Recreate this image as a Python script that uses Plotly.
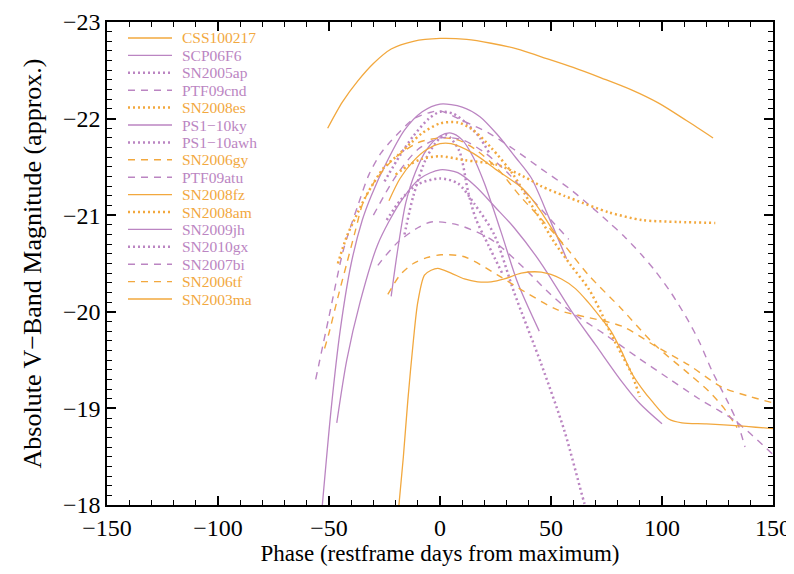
import plotly.graph_objects as go

ORANGE = "#F2A83E"
PURPLE = "#BB85C2"

names = ["CSS100217", "SCP06F6", "SN2005ap", "PTF09cnd", "SN2008es", "PS1\u221210ky",
         "PS1\u221210awh", "SN2006gy", "PTF09atu", "SN2008fz", "SN2008am", "SN2009jh",
         "SN2010gx", "SN2007bi", "SN2006tf", "SN2003ma"]
colors = [ORANGE, PURPLE, PURPLE, PURPLE, ORANGE, PURPLE, PURPLE, ORANGE, PURPLE,
          ORANGE, ORANGE, PURPLE, PURPLE, PURPLE, ORANGE, ORANGE]
styles = ["solid", "solid", "dot", "dash", "dot", "solid", "dot", "dash", "dash",
          "solid", "dot", "solid", "dot", "dash", "dash", "solid"]

# phase (days) and absolute magnitude for each light curve
css100217_x = [-50.6, -44, -37, -30, -22, -12, 0, 12, 23, 35, 45.6, 60, 72.8, 86, 98.5, 111, 123]
css100217_y = [-21.90, -22.17, -22.39, -22.57, -22.72, -22.80, -22.83, -22.82, -22.78, -22.72,
               -22.64, -22.53, -22.42, -22.30, -22.16, -21.98, -21.80]

scp06f6_x = [-53, -49, -45, -40, -35, -31, -24, -16, -8, 0, 10, 18, 26, 34, 41, 49, 57]
scp06f6_y = [-18.0, -19.0, -19.8, -20.5, -20.95, -21.2, -21.55, -21.88, -22.07, -22.15,
             -22.12, -22.02, -21.83, -21.6, -21.39, -20.98, -20.55]

sn2005ap_x = [-25, -18, -12, -5, 0, 6, 12, 18, 22]
sn2005ap_y = [-21.35, -21.62, -21.82, -22.0, -22.07, -22.05, -21.95, -21.8, -21.65]

ptf09cnd_x = [-56, -50, -43.4, -37, -32, -26.7, -22, -11.7, -5, 0, 11, 22, 33.4, 45.6, 58, 67,
              75.9, 83, 90.8, 96.7, 104, 112, 117, 122.5, 130, 134, 137.4]
ptf09cnd_y = [-19.3, -19.95, -20.65, -21.1, -21.42, -21.64, -21.77, -22.0, -22.06, -22.08,
              -21.97, -21.85, -21.68, -21.48, -21.28, -21.11, -20.93, -20.78, -20.59, -20.43,
              -20.2, -19.9, -19.68, -19.39, -19.05, -18.85, -18.6]

sn2008es_x = [-46, -42, -38, -34, -30, -25, -19, -13, -8, 0, 8, 15, 23, 33, 40, 46, 51.5, 59,
              66.9, 72, 77, 82, 86.3, 90]
sn2008es_y = [-20.5, -20.78, -20.98, -21.17, -21.33, -21.5, -21.62, -21.75, -21.85, -21.95,
              -21.96, -21.88, -21.7, -21.42, -21.15, -20.93, -20.72, -20.48, -20.24, -20.02,
              -19.77, -19.55, -19.36, -19.12]

ps110ky_x = [-22, -19, -15.4, -11, -6, 0, 5, 10, 15, 20, 27.6, 35, 44.7]
ps110ky_y = [-20.16, -20.65, -21.13, -21.45, -21.68, -21.82, -21.85, -21.78, -21.6, -21.33,
             -20.82, -20.3, -19.8]

ps110awh_x = [-16, -12, -6, 0, 3, 8.6, 12.6, 16, 22, 28]
ps110awh_y = [-20.8, -21.2, -21.6, -21.8, -21.83, -21.67, -21.25, -20.97, -20.68, -20.4]

sn2006gy_x = [-52, -50, -46, -42, -38, -34.8, -30, -25, -20, -10, 0, 8, 16, 26, 36, 46, 56,
              66.9, 81.8, 96.7, 112, 121, 128, 133.8]
sn2006gy_y = [-19.62, -19.78, -20.15, -20.5, -20.85, -21.12, -21.33, -21.48, -21.6, -21.75,
              -21.8, -21.78, -21.68, -21.48, -21.2, -20.95, -20.69, -20.38, -20.03, -19.66,
              -19.36, -19.18, -19.0, -18.8]

ptf09atu_x = [-30, -20, -10, 0, 10, 20, 30, 40, 50, 58]
ptf09atu_y = [-21.0, -21.4, -21.68, -21.8, -21.78, -21.65, -21.45, -21.2, -20.95, -20.75]

sn2008fz_x = [-23, -18, -12, -6, 0, 5, 15, 26, 36.6, 41, 46, 51, 55.6]
sn2008fz_y = [-21.15, -21.38, -21.56, -21.68, -21.74, -21.74, -21.64, -21.46, -21.29, -21.18,
              -21.02, -20.84, -20.69]

sn2008am_x = [-20, -14, -8.6, 0, 11, 26, 41, 45.6, 56, 60.6, 76, 91, 107.5, 124]
sn2008am_y = [-21.42, -21.52, -21.58, -21.61, -21.57, -21.52, -21.36, -21.3, -21.2, -21.16,
              -21.03, -20.95, -20.93, -20.92]

sn2009jh_x = [-46.5, -42, -36, -28, -18, -9, 0, 8, 16, 25, 33.4, 45, 60, 70, 81.8, 90, 100]
sn2009jh_y = [-18.85, -19.5, -20.1, -20.7, -21.13, -21.38, -21.47, -21.44, -21.3, -21.08,
              -20.87, -20.52, -19.98, -19.66, -19.28, -19.05, -18.84]

sn2010gx_x = [-24, -18, -10, 0, 8, 15.4, 24.4, 33.4, 45.6, 56, 65, 68]
sn2010gx_y = [-20.95, -21.15, -21.32, -21.38, -21.33, -21.12, -20.8, -20.2, -19.46, -18.77,
              -18.02, -17.8]

sn2007bi_x = [-28, -26.7, -19, -10, -4, 8, 23, 38, 48, 59, 74, 89.5, 103, 116.6, 133, 149.6]
sn2007bi_y = [-20.48, -20.52, -20.72, -20.87, -20.93, -20.9, -20.75, -20.45, -20.22, -20.0,
              -19.77, -19.52, -19.31, -19.1, -18.87, -18.53]

sn2006tf_x = [-23.5, -18, -12, -6, 0.5, 11, 26, 38, 53, 65, 82, 96.7, 112, 127, 140, 149.6]
sn2006tf_y = [-20.18, -20.38, -20.5, -20.56, -20.59, -20.57, -20.38, -20.21, -20.02, -19.95,
              -19.85, -19.65, -19.45, -19.22, -19.12, -19.06]

sn2003ma_x = [-18.5, -16.5, -14.5, -12, -10, -7, -4, -1, 5, 11, 17, 23, 29, 36.6, 45.6, 54.7,
              61, 66.7, 72, 77, 81.8, 86, 90.8, 95.3, 103, 109, 120, 134.7, 150]
sn2003ma_y = [-18.0, -18.5, -19.08, -19.7, -20.10, -20.38, -20.43, -20.45, -20.40, -20.34,
              -20.31, -20.31, -20.34, -20.40, -20.41, -20.34, -20.24, -20.10, -19.95, -19.80,
              -19.59, -19.38, -19.21, -19.08, -18.89, -18.85, -18.84, -18.82, -18.79]

xs = [css100217_x, scp06f6_x, sn2005ap_x, ptf09cnd_x, sn2008es_x, ps110ky_x, ps110awh_x,
      sn2006gy_x, ptf09atu_x, sn2008fz_x, sn2008am_x, sn2009jh_x, sn2010gx_x, sn2007bi_x,
      sn2006tf_x, sn2003ma_x]
ys = [css100217_y, scp06f6_y, sn2005ap_y, ptf09cnd_y, sn2008es_y, ps110ky_y, ps110awh_y,
      sn2006gy_y, ptf09atu_y, sn2008fz_y, sn2008am_y, sn2009jh_y, sn2010gx_y, sn2007bi_y,
      sn2006tf_y, sn2003ma_y]

x_ticks = [-150, -100, -50, 0, 50, 100, 150]
y_ticks = [-18, -19, -20, -21, -22, -23]

FONT = "Liberation Serif"

# target plot area in window pixels; the page body adds an 8px offset,
# and the figure is kept small enough that the page does not scroll
OFF = 8
W, H = 786, 558
L, R, T, B = 107, 773, 22, 505


def line_style(style):
    if style == "dot":
        return dict(width=2.5, dash="2px,3px")
    if style == "dash":
        return dict(width=1.4, dash="7px,6px")
    return dict(width=1.3, dash="solid")


fig = go.Figure()
for name, x, y, c, s in zip(names, xs, ys, colors, styles):
    st = line_style(s)
    fig.add_trace(go.Scatter(x=x, y=y, mode="lines", name=name,
                             line=dict(color=c, width=st["width"], dash=st["dash"],
                                       shape="spline", smoothing=0.8),
                             showlegend=False, hoverinfo="skip"))

shapes = []
annotations = []
for i, (name, c, s) in enumerate(zip(names, colors, styles)):
    py = 38 + 17.4 * i
    yp = (B - py) / (B - T)
    st = line_style(s)
    shapes.append(dict(type="line", xref="paper", yref="paper",
                       x0=(128 - L) / (R - L), x1=(172 - L) / (R - L),
                       y0=yp, y1=yp, line=dict(color=c, width=st["width"], dash=st["dash"])))
    annotations.append(dict(xref="paper", yref="paper", x=(181 - L) / (R - L), y=yp, text=name,
                            showarrow=False, xanchor="left", yanchor="middle", borderpad=0,
                            font=dict(family=FONT, size=15.5, color=c)))

fig.update_layout(
    width=W, height=H,
    margin=dict(l=L - OFF, r=W - (R - OFF), t=T - OFF, b=H - (B - OFF), pad=0),
    plot_bgcolor="white", paper_bgcolor="white",
    font=dict(family=FONT, size=24, color="black"),
    showlegend=False,
    shapes=shapes, annotations=annotations,
)
fig.update_xaxes(range=[-150, 150], tickvals=x_ticks, ticks="inside", ticklen=9,
                 tickwidth=1.5, tickcolor="black", mirror="allticks", showline=True,
                 linecolor="black", linewidth=1.5, showgrid=False, zeroline=False,
                 automargin=False, ticklabeloverflow="allow",
                 minor=dict(tick0=-150, dtick=10, ticks="inside", ticklen=5,
                            tickcolor="black", tickwidth=1.2),
                 tickfont=dict(family=FONT, size=24),
                 title=dict(text="Phase (restframe days from maximum)", standoff=4,
                            font=dict(family=FONT, size=23)))
fig.update_yaxes(range=[-18, -23], tickvals=y_ticks, ticks="inside", ticklen=9,
                 tickwidth=1.5, tickcolor="black", mirror="allticks", showline=True,
                 linecolor="black", linewidth=1.5, showgrid=False, zeroline=False,
                 automargin=False, ticklabeloverflow="allow",
                 minor=dict(tick0=-18, dtick=0.1, ticks="inside", ticklen=5,
                            tickcolor="black", tickwidth=1.2),
                 tickfont=dict(family=FONT, size=24),
                 title=dict(text="Absolute V\u2212Band Magnitude (approx.)", standoff=14,
                            font=dict(family=FONT, size=26)))

fig.write_html("out.html")
